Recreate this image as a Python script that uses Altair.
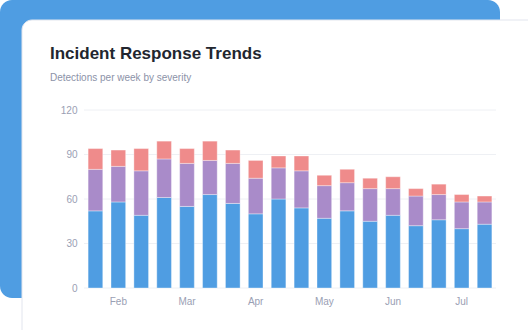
import altair as alt
import pandas as pd

# Weekly detections, Jan 25 through May 24
weeks = [
    "2024-01-25", "2024-02-01", "2024-02-08", "2024-02-15", "2024-02-22", "2024-02-29",
    "2024-03-07", "2024-03-14", "2024-03-21", "2024-03-28", "2024-04-04", "2024-04-11",
    "2024-04-18", "2024-04-25", "2024-05-02", "2024-05-09", "2024-05-16", "2024-05-23",
]
month_ticks = {1: "Feb", 4: "Mar", 7: "Apr", 10: "May", 13: "Jun", 16: "Jul"}

low = [52, 58, 49, 61, 55, 63, 57, 50, 60, 54, 47, 52, 45, 49, 42, 46, 40, 43]
medium = [28, 24, 30, 26, 29, 23, 27, 24, 21, 25, 22, 19, 22, 18, 20, 17, 18, 15]
high = [14, 11, 15, 12, 10, 13, 9, 12, 8, 10, 7, 9, 7, 8, 5, 7, 5, 4]

severities = ["Low", "Medium", "High"]
colors = ["#4f9de2", "#a98bc9", "#ef8b8b"]
y_ticks = [0, 30, 60, 90, 120]

rows = []
for i, w in enumerate(weeks):
    for sev, vals, order in zip(severities, [low, medium, high], [0, 1, 2]):
        rows.append({"week": w, "idx": i, "severity": sev, "count": vals[i], "order": order})
df = pd.DataFrame(rows)

label_map = {weeks[i]: m for i, m in month_ticks.items()}
label_expr = "(" + str(label_map).replace("'", '"') + ")[datum.value] || ''"

W, H = 412, 178
LEFT, TOP = 84, 110

one = alt.Data(values=[{}])

backdrop = alt.Chart(one).mark_rect(color="#4f9de2", cornerRadius=12).encode(
    x=alt.value(-LEFT), x2=alt.value(500 - LEFT),
    y=alt.value(-TOP), y2=alt.value(298 - TOP),
)
card = alt.Chart(one).mark_rect(
    color="#ffffff", cornerRadius=10, stroke="#e2e5ee", strokeWidth=1
).encode(
    x=alt.value(22 - LEFT), x2=alt.value(560 - LEFT),
    y=alt.value(20 - TOP), y2=alt.value(360 - TOP),
)
title = alt.Chart(one).mark_text(
    text="Incident Response Trends", align="left", baseline="alphabetic",
    font="Liberation Sans", fontSize=17, fontWeight="bold", color="#22262f",
).encode(x=alt.value(50 - LEFT), y=alt.value(59 - TOP))
subtitle = alt.Chart(one).mark_text(
    text="Detections per week by severity", align="left", baseline="alphabetic",
    font="Liberation Sans", fontSize=10, color="#8c92a8",
).encode(x=alt.value(50 - LEFT), y=alt.value(81 - TOP))

# Horizontal gridlines drawn above the card, below the bars
grid = alt.Chart(pd.DataFrame({"v": y_ticks})).mark_rule(
    color="#eef0f4", strokeWidth=1
).encode(y=alt.Y("v:Q"))

bars = alt.Chart(df).mark_bar(strokeWidth=1, strokeOpacity=0.35, stroke="#ffffff").encode(
    x=alt.X(
        "week:N", sort=weeks, title=None,
        scale=alt.Scale(paddingInner=0.36, paddingOuter=0.18),
        axis=alt.Axis(
            labelExpr=label_expr, ticks=False, domain=False, labelAngle=0,
            labelColor="#9aa0b4", labelFontSize=10, labelFont="Liberation Sans",
            labelPadding=8, grid=False, zindex=1,
        ),
    ),
    y=alt.Y(
        "count:Q", stack="zero", title=None,
        scale=alt.Scale(domain=[0, 120]),
        axis=alt.Axis(
            values=y_ticks, ticks=False, domain=False, grid=False,
            labelColor="#9aa0b4", labelFontSize=10, labelFont="Liberation Sans",
            labelPadding=7, zindex=1,
        ),
    ),
    color=alt.Color(
        "severity:N", sort=severities, legend=None,
        scale=alt.Scale(domain=severities, range=colors),
    ),
    order=alt.Order("order:Q", sort="ascending"),
)

chart = alt.layer(backdrop, card, title, subtitle, grid, bars).resolve_scale(
    y="shared"
).properties(
    width=W, height=H,
    autosize=alt.AutoSizeParams(type="none"),
    padding={"left": LEFT, "top": TOP, "right": 528 - LEFT - W, "bottom": 330 - TOP - H},
    background="#ffffff",
).configure_view(stroke=None)

chart.save("out.html", embed_options={"renderer": "svg", "actions": False})
